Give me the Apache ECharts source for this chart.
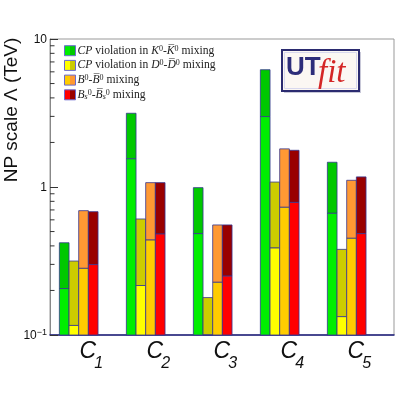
<!DOCTYPE html>
<html>
<head>
<meta charset="utf-8">
<script src="https://cdn.jsdelivr.net/npm/echarts@6/dist/echarts.min.js"></script>
<style>
    html, body { margin: 0; padding: 0; background: #fff; }
    #main { width: 415px; height: 395px; }
</style>
</head>
<body>
<div id="main"></div>
<script>
var categories = ['1', '2', '3', '4', '5'];

// top of each bar and boundary between bright (lower) and dark (upper) part, TeV
var kTop = [0.42, 3.15, 0.99, 6.2, 1.47];
var kLow = [0.206, 1.55, 0.484, 2.99, 0.664];
var dTop = [0.316, 0.608, 0.179, 1.08, 0.379];
var dLow = [0.116, 0.216, 0.1, 0.387, 0.133];
var bTop = [0.692, 1.07, 0.554, 1.81, 1.11];
var bLow = [0.282, 0.438, 0.227, 0.729, 0.45];
var bsTop = [0.681, 1.07, 0.554, 1.77, 1.17];
var bsLow = [0.299, 0.481, 0.25, 0.787, 0.484];

var yTickValues = [0.1, 1, 10];
var yTickLabels = ['{b|10}{sup|\u22121}', '{b|1}', '{b|10}'];
var minorTickValues = [0.2, 0.3, 0.4, 0.5, 0.6, 0.7, 0.8, 0.9, 2, 3, 4, 5, 6, 7, 8, 9];

var yMin = 0.1, yMax = 10;
var barColors = [
    ['#00ee00', '#00c800'],
    ['#ffff00', '#cccc00'],
    ['#ffcc00', '#ff9933'],
    ['#ff0000', '#990000']
];
var legendTexts = [
    '{i|CP} violation in {i|K}{sup|0}-{i|K\u0305}{sup|0} mixing',
    '{i|CP} violation in {i|D}{sup|0}-{i|D\u0305}{sup|0} mixing',
    '{i|B}{sup|0}-{i|B\u0305}{sup|0} mixing',
    '{i|B}{sub|s}{sup|0}-{i|B\u0305}{sub|s}{sup|0} mixing'
];

var chart = echarts.init(document.getElementById('main'));

var makeData = function (low, top) {
    var out = [];
    for (var i = 0; i < categories.length; i++) {
        out.push([i, low[i], top[i]]);
    }
    return out;
};

var renderBar = function (k) {
    return function (params, api) {
        var cat = api.value(0);
        var base = api.coord([cat, yMin]);
        var pLow = api.coord([cat, api.value(1)]);
        var pTop = api.coord([cat, api.value(2)]);
        var band = api.size([1, 0])[0];
        var bw = band * 0.1443;
        var x = base[0] - 2 * bw + k * bw;
        var stroke = { stroke: '#35358f', lineWidth: 0.8 };
        return {
            type: 'group',
            children: [{
                type: 'rect',
                shape: { x: x, y: pTop[1], width: bw, height: pLow[1] - pTop[1] },
                style: echarts.util.extend({ fill: barColors[k][1] }, stroke)
            }, {
                type: 'rect',
                shape: { x: x, y: pLow[1], width: bw, height: base[1] - pLow[1] },
                style: echarts.util.extend({ fill: barColors[k][0] }, stroke)
            }]
        };
    };
};

var seriesList = [];
var lows = [kLow, dLow, bLow, bsLow];
var tops = [kTop, dTop, bTop, bsTop];
for (var k = 0; k < 4; k++) {
    seriesList.push({
        type: 'custom',
        xAxisIndex: 0,
        yAxisIndex: 0,
        renderItem: renderBar(k),
        data: makeData(lows[k], tops[k]),
        silent: true,
        z: 3
    });
}

// minor ticks of the log axis, drawn on the frame grid
seriesList.push({
    type: 'custom',
    xAxisIndex: 1,
    yAxisIndex: 1,
    silent: true,
    z: 4,
    data: minorTickValues.map(function (v) { return [0, v]; }),
    renderItem: function (params, api) {
        var p = api.coord([0, api.value(1)]);
        return {
            type: 'line',
            shape: { x1: p[0], y1: p[1], x2: p[0] + 4.5, y2: p[1] },
            style: { stroke: '#333', lineWidth: 1 }
        };
    }
});

var legendItems = [];
for (var j = 0; j < 4; j++) {
    var cy = 50.7 + j * 14.7;
    legendItems.push({
        type: 'rect', shape: { x: 64.5, y: cy - 5, width: 5.5, height: 10 },
        style: { fill: barColors[j][0] }
    }, {
        type: 'rect', shape: { x: 70, y: cy - 5, width: 5.5, height: 10 },
        style: { fill: barColors[j][1] }
    }, {
        type: 'rect', shape: { x: 64.5, y: cy - 5, width: 11, height: 10 },
        style: { fill: null, stroke: '#6a6ad0', lineWidth: 1 }
    }, {
        type: 'text', x: 77.5, y: cy,
        style: {
            text: legendTexts[j],
            fontFamily: 'Liberation Serif', fontSize: 11.6, fill: '#222',
            verticalAlign: 'middle', align: 'left',
            rich: {
                i: { fontFamily: 'Liberation Serif', fontStyle: 'italic', fontSize: 11.6, fill: '#222' },
                sup: { fontFamily: 'Liberation Serif', fontSize: 8, fill: '#222', verticalAlign: 'top', lineHeight: 12 },
                sub: { fontFamily: 'Liberation Serif', fontStyle: 'italic', fontSize: 8, fill: '#222', verticalAlign: 'bottom', lineHeight: 12 }
            }
        }
    });
}

var option = {
    backgroundColor: '#fff',
    animation: false,
    grid: [
        { left: 45.2, top: 39, width: 335, height: 296 },
        { left: 50, top: 39, width: 344, height: 296, show: true, borderColor: '#999', borderWidth: 1, backgroundColor: 'transparent' }
    ],
    xAxis: [{
        type: 'category',
        gridIndex: 0,
        data: categories,
        axisLine: { show: false },
        axisTick: { show: false },
        axisLabel: {
            margin: 5,
            interval: 0,
            formatter: function (v) { return '{sp|}{c|C}{s|' + v + '}'; },
            rich: {
                sp: { width: 27, lineHeight: 32 },
                c: { fontFamily: 'Liberation Sans', fontStyle: 'italic', fontSize: 23, color: '#111', lineHeight: 24, verticalAlign: 'top', width: 13 },
                s: { fontFamily: 'Liberation Sans', fontStyle: 'italic', fontSize: 16, color: '#111', lineHeight: 17, verticalAlign: 'bottom' }
            }
        }
    }, {
        type: 'value',
        gridIndex: 1,
        min: 0,
        max: 1,
        axisLine: { show: true, lineStyle: { color: '#1c1c7c', width: 1.5 } },
        axisTick: { show: false },
        axisLabel: { show: false },
        splitLine: { show: false }
    }],
    yAxis: [{
        type: 'log',
        gridIndex: 0,
        min: yMin,
        max: yMax,
        show: false
    }, {
        type: 'log',
        gridIndex: 1,
        logBase: 10,
        min: yMin,
        max: yMax,
        axisLine: { show: true, lineStyle: { color: '#888', width: 1 } },
        axisTick: { show: true, inside: true, length: 8, lineStyle: { color: '#333' } },
        splitLine: { show: false },
        axisLabel: {
            margin: 3,
            formatter: function (v) {
                var best = 0;
                for (var i = 0; i < yTickValues.length; i++) {
                    if (Math.abs(Math.log(v / yTickValues[i])) < Math.abs(Math.log(v / yTickValues[best]))) best = i;
                }
                return yTickLabels[best];
            },
            rich: {
                b: { fontFamily: 'Liberation Sans', fontSize: 12, color: '#111', lineHeight: 14, verticalAlign: 'bottom' },
                sup: { fontFamily: 'Liberation Sans', fontSize: 9, color: '#111', lineHeight: 14, verticalAlign: 'top' }
            }
        }
    }],
    graphic: [{
        type: 'text',
        x: 12,
        y: 110,
        rotation: Math.PI / 2,
        style: {
            text: 'NP scale \u039b (TeV)',
            fontFamily: 'Liberation Sans',
            fontSize: 19,
            fill: '#111',
            align: 'center',
            verticalAlign: 'middle'
        }
    }, {
        type: 'group',
        children: legendItems
    }, {
        // UTfit logo
        type: 'group',
        children: [{
            type: 'rect', shape: { x: 284, y: 52, width: 77, height: 41 },
            style: { fill: '#c8c8d8' }
        }, {
            type: 'rect', shape: { x: 282, y: 50, width: 77, height: 41 },
            style: { fill: '#fbf7f3', stroke: '#2b2b70', lineWidth: 2 }
        }, {
            type: 'rect', shape: { x: 284.5, y: 52.5, width: 72, height: 36 },
            style: { fill: null, stroke: '#d8d8ee', lineWidth: 1 }
        }, {
            type: 'text', x: 286, y: 81,
            style: { text: 'UT', fontFamily: 'Liberation Sans', fontWeight: 'bold', fontSize: 26, fill: '#2d2d7a', verticalAlign: 'bottom' }
        }, {
            type: 'text', x: 318, y: 90,
            style: { text: 'fit', fontFamily: 'Liberation Serif', fontStyle: 'italic', fontSize: 33, fill: '#d42626', verticalAlign: 'bottom' }
        }]
    }],
    series: seriesList
};

chart.setOption(option);
</script>
</body>
</html>
